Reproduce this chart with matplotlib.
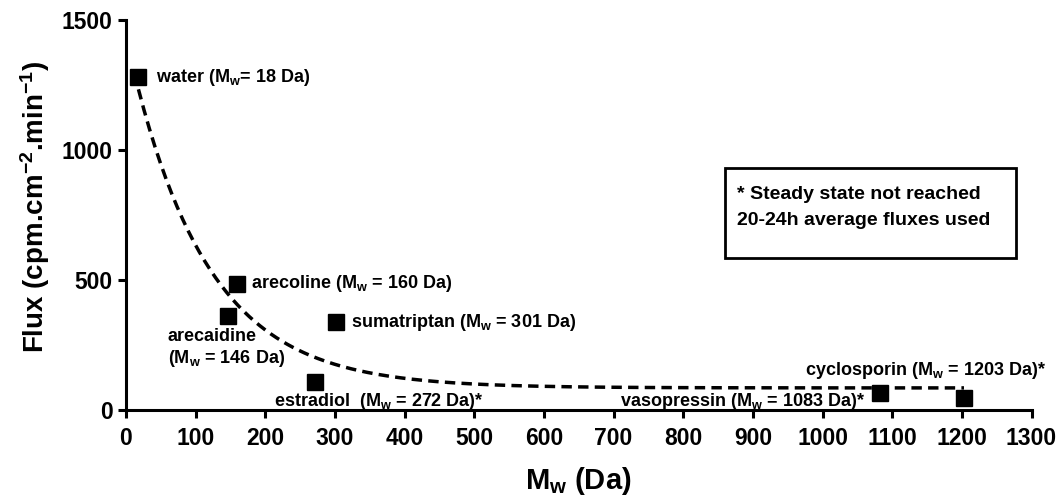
import numpy as np
import matplotlib.pyplot as plt
from matplotlib.patches import Rectangle

plt.rcParams['font.family'] = ['Liberation Sans', 'DejaVu Sans']
plt.rcParams['font.weight'] = 'bold'
plt.rcParams['mathtext.fontset'] = 'custom'
plt.rcParams['mathtext.rm'] = 'Liberation Sans:bold'
plt.rcParams['mathtext.bf'] = 'Liberation Sans:bold'
plt.rcParams['mathtext.it'] = 'Liberation Sans:bold'
plt.rcParams['mathtext.default'] = 'bf'

# data
names = ['water', 'arecoline', 'arecaidine', 'sumatriptan', 'estradiol', 'vasopressin', 'cyclosporin']
mw = [18, 160, 146, 301, 272, 1083, 1203]
flux = [1280, 485, 362, 338, 108, 65, 45]
labels = [
    'water (M$_w$= 18 Da)',
    'arecoline (M$_w$ = 160 Da)',
    'arecaidine\n(M$_w$ = 146 Da)',
    'sumatriptan (M$_w$ = 301 Da)',
    'estradiol  (M$_w$ = 272 Da)*',
    'vasopressin (M$_w$ = 1083 Da)*',
    'cyclosporin (M$_w$ = 1203 Da)*',
]
# label offsets (points) and alignment
offsets = [(13, 0), (10, 0), (-43, -9), (11, 0), (-30, -14), (-11, -6), (59, 20)]
aligns = [('left', 'center'), ('left', 'center'), ('left', 'top'), ('left', 'center'),
          ('left', 'center'), ('right', 'center'), ('right', 'center')]

# one-phase decay fit
plateau = 85
span = 1350
k = 0.009

fig = plt.figure(figsize=(10.58, 4.97), dpi=100)
ax = fig.add_axes([0.119, 0.175, 0.856, 0.785])

xf = np.linspace(min(mw), max(mw), 300)
yf = plateau + span * np.exp(-k * xf)
ax.plot(xf, yf, color='black', lw=2.5, ls=(0, (3, 1.8)), zorder=2)

ax.plot(mw, flux, 's', color='black', markersize=11, zorder=3, clip_on=False)

for i in range(len(names)):
    ax.annotate(labels[i], xy=(mw[i], flux[i]), xytext=offsets[i], textcoords='offset points',
                ha=aligns[i][0], va=aligns[i][1], fontsize=13, fontweight='bold', linespacing=1.2)

ax.set_xlim(0, 1300)
ax.set_ylim(0, 1500)
ax.set_xticks(range(0, 1301, 100))
ax.set_yticks([0, 500, 1000, 1500])
for s in ['top', 'right']:
    ax.spines[s].set_visible(False)
for s in ['left', 'bottom']:
    ax.spines[s].set_linewidth(2.2)
ax.tick_params(width=2.2, length=6, labelsize=16.5)
ax.tick_params(axis='x', pad=6)
for t in ax.get_xticklabels() + ax.get_yticklabels():
    t.set_fontweight('bold')

ax.set_xlabel('M$_w$ (Da)', fontsize=21, fontweight='bold', labelpad=11)
ax.set_ylabel('Flux (cpm.cm$^{-2}$.min$^{-1}$)', fontsize=20, fontweight='bold')
ax.yaxis.set_label_coords(-0.082, 0.52)

fig.patches.append(Rectangle((0.685, 0.481), 0.275, 0.181, transform=fig.transFigure,
                             fill=False, edgecolor='black', lw=2))
fig.text(0.697, 0.608, '* Steady state not reached', fontsize=14, fontweight='bold', va='center')
fig.text(0.697, 0.557, '20-24h average fluxes used', fontsize=14, fontweight='bold', va='center')

fig.savefig('out.png', dpi=100)
